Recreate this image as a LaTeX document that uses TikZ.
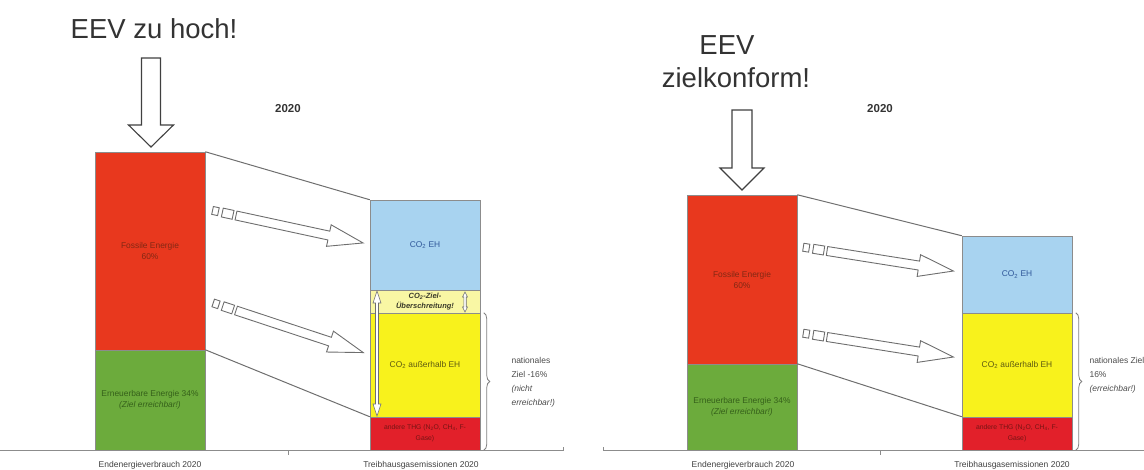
\documentclass[tikz,border=0pt]{standalone}
\usepackage{fontspec}
\setmainfont{Liberation Sans}
\usetikzlibrary{decorations.pathreplacing}
\definecolor{fossred}{HTML}{E8381E}
\definecolor{fosstext}{HTML}{822814}
\definecolor{eegreen}{HTML}{6CAB3C}
\definecolor{eetext}{HTML}{35601A}
\definecolor{ehblue}{HTML}{A8D3F0}
\definecolor{ehtext}{HTML}{30589A}
\definecolor{lightyel}{HTML}{F9F7A4}
\definecolor{lytext}{HTML}{3A3A2A}
\definecolor{yel}{HTML}{F8F21C}
\definecolor{yeltext}{HTML}{5E5A10}
\definecolor{thgred}{HTML}{E2202A}
\definecolor{thgtext}{HTML}{761414}
\definecolor{linegray}{HTML}{6E6E6E}
\newcommand{\hollowarr}[3]{%
  \begin{scope}[shift={#1},rotate=-#2]
    \draw[arrline] (-24,-4) rectangle (-18,4);
    \draw[arrline] (-14,-4.5) rectangle (-3,4.5);
    \draw[arrline] (0,-4.5) -- (#3-35,-4.5) -- (#3-35,-11) -- (#3,0) -- (#3-35,11) -- (#3-35,4.5) -- (0,4.5) -- cycle;
  \end{scope}}
\begin{document}
\begin{tikzpicture}[x=1pt,y=-1pt,
  bar/.style={rectangle, draw=black!45, line width=0.5pt, minimum width=110pt, inner sep=0pt, align=center, font=\fontsize{8.4}{11}\selectfont},
  conn/.style={draw=linegray, line width=1pt},
  arrline/.style={draw=linegray, line width=0.9pt, fill=white, line join=miter},
  bigarr/.style={draw=black!75, line width=1.1pt, fill=white},
  title/.style={font=\fontsize{27.5}{30}\selectfont, text=black!80, anchor=base},
  year/.style={font=\bfseries\fontsize{11.5}{13}\selectfont, text=black!80, anchor=base},
  axlabel/.style={font=\fontsize{8.5}{10}\selectfont, text=black!75, anchor=base},
  bracelabel/.style={font=\fontsize{8.5}{14}\selectfont, text=black!70, anchor=west, align=left},
  axis/.style={draw=black!45, line width=0.9pt},
  bracestyle/.style={draw=black!50, line width=0.8pt, decorate, decoration={brace, amplitude=6pt}}]
\useasboundingbox (0,0) rectangle (1144,470);
\clip (0,0) rectangle (1144,470);

% ---------- left panel ----------
\node[title] (t1) at (154,39) {EEV zu hoch!};
\node[year] (y1) at (288,113) {2020};
\draw[bigarr] (141.5,58) -- (160.5,58) -- (160.5,125) -- (173.5,125) -- (151,147) -- (128.5,125) -- (141.5,125) -- cycle;

\node[bar, fill=fossred, minimum height=198pt, text=fosstext] (fos1) at (150,251) {Fossile Energie\\60\%};
\node[bar, fill=eegreen, minimum height=100pt, text=eetext] (ee1) at (150,400) {Erneuerbare Energie 34\%\\\textit{(Ziel erreichbar!)}};

\node[bar, fill=ehblue, minimum height=90pt, text=ehtext] (eh1) at (425,245) {CO\textsubscript{2} EH};
\node[bar, fill=lightyel, minimum height=23pt, text=lytext, font=\bfseries\itshape\fontsize{7.5}{10}\selectfont] (ue1) at (425,301.5) {CO\textsubscript{2}-Ziel-\\Überschreitung!};
\node[bar, fill=yel, minimum height=104pt, text=yeltext] (ye1) at (425,365) {CO\textsubscript{2} außerhalb EH};
\node[bar, fill=thgred, minimum height=33pt, text=thgtext, font=\fontsize{6.8}{11}\selectfont] (th1) at (425,433.5) {andere THG (N\textsubscript{2}O, CH\textsubscript{4}, F-\\Gase)};

\draw[conn] (fos1.north east) -- (eh1.north west);
\draw[conn] (ee1.north east) -- (th1.north west);

\hollowarr{(236,215.5)}{12.2}{130}
\hollowarr{(236,310.5)}{18.3}{134}

% white double arrows
\draw[draw=linegray, line width=0.6pt, fill=white] (377,291) -- (381,303) -- (378.5,303) -- (378.5,404) -- (381,404) -- (377,416) -- (373,404) -- (375.5,404) -- (375.5,303) -- (373,303) -- cycle;
\draw[draw=linegray, line width=0.6pt, fill=white] (465,292) -- (467.5,297) -- (466.2,297) -- (466.2,307) -- (467.5,307) -- (465,312) -- (462.5,307) -- (463.8,307) -- (463.8,297) -- (462.5,297) -- cycle;

\draw[bracestyle] ([xshift=3.5pt]ye1.north east) -- ([xshift=3.5pt]th1.south east);
\node[bracelabel] (nz1) at (508,382.5) {nationales\\Ziel -16\%\\\textit{(nicht}\\\textit{erreichbar!)}};

\draw[axis] (0,450) -- (563,450) -- (563,447);
\draw[axis] (288,450) -- (288,455);
\node[axlabel] (l1) at (150,467.5) {Endenergieverbrauch 2020};
\node[axlabel] (l2) at (421,467.5) {Treibhausgasemissionen 2020};

% ---------- right panel ----------
\node[title] (t2a) at (727,55) {EEV};
\node[title] (t2b) at (736,88) {zielkonform!};
\node[year] (y2) at (880,113) {2020};
\draw[bigarr] (732,110) -- (752,110) -- (752,168) -- (764,168) -- (742,190) -- (720,168) -- (732,168) -- cycle;

\node[bar, fill=fossred, minimum height=169pt, text=fosstext] (fos2) at (742,279.5) {Fossile Energie\\60\%};
\node[bar, fill=eegreen, minimum height=86pt, text=eetext] (ee2) at (742,407) {Erneuerbare Energie 34\%\\\textit{(Ziel erreichbar!)}};

\node[bar, fill=ehblue, minimum height=77pt, text=ehtext] (eh2) at (1017,274.5) {CO\textsubscript{2} EH};
\node[bar, fill=yel, minimum height=104pt, text=yeltext] (ye2) at (1017,365) {CO\textsubscript{2} außerhalb EH};
\node[bar, fill=thgred, minimum height=33pt, text=thgtext, font=\fontsize{6.8}{11}\selectfont] (th2) at (1017,433.5) {andere THG (N\textsubscript{2}O, CH\textsubscript{4}, F-\\Gase)};

\draw[conn] (fos2.north east) -- (eh2.north west);
\draw[conn] (ee2.north east) -- (th2.north west);

\hollowarr{(827,251)}{9}{128}
\hollowarr{(827,337)}{9}{128}

\draw[bracestyle] ([xshift=3.5pt]ye2.north east) -- ([xshift=3.5pt]th2.south east);
\node[bracelabel] (nz2) at (1086,375) {nationales Ziel -\\16\%\\\textit{(erreichbar!)}};

\draw[axis] (603,447) -- (603,450) -- (1144,450);
\draw[axis] (880,450) -- (880,455);
\node[axlabel] (l3) at (743,467.5) {Endenergieverbrauch 2020};
\node[axlabel] (l4) at (1012,467.5) {Treibhausgasemissionen 2020};
\end{tikzpicture}
\end{document}
